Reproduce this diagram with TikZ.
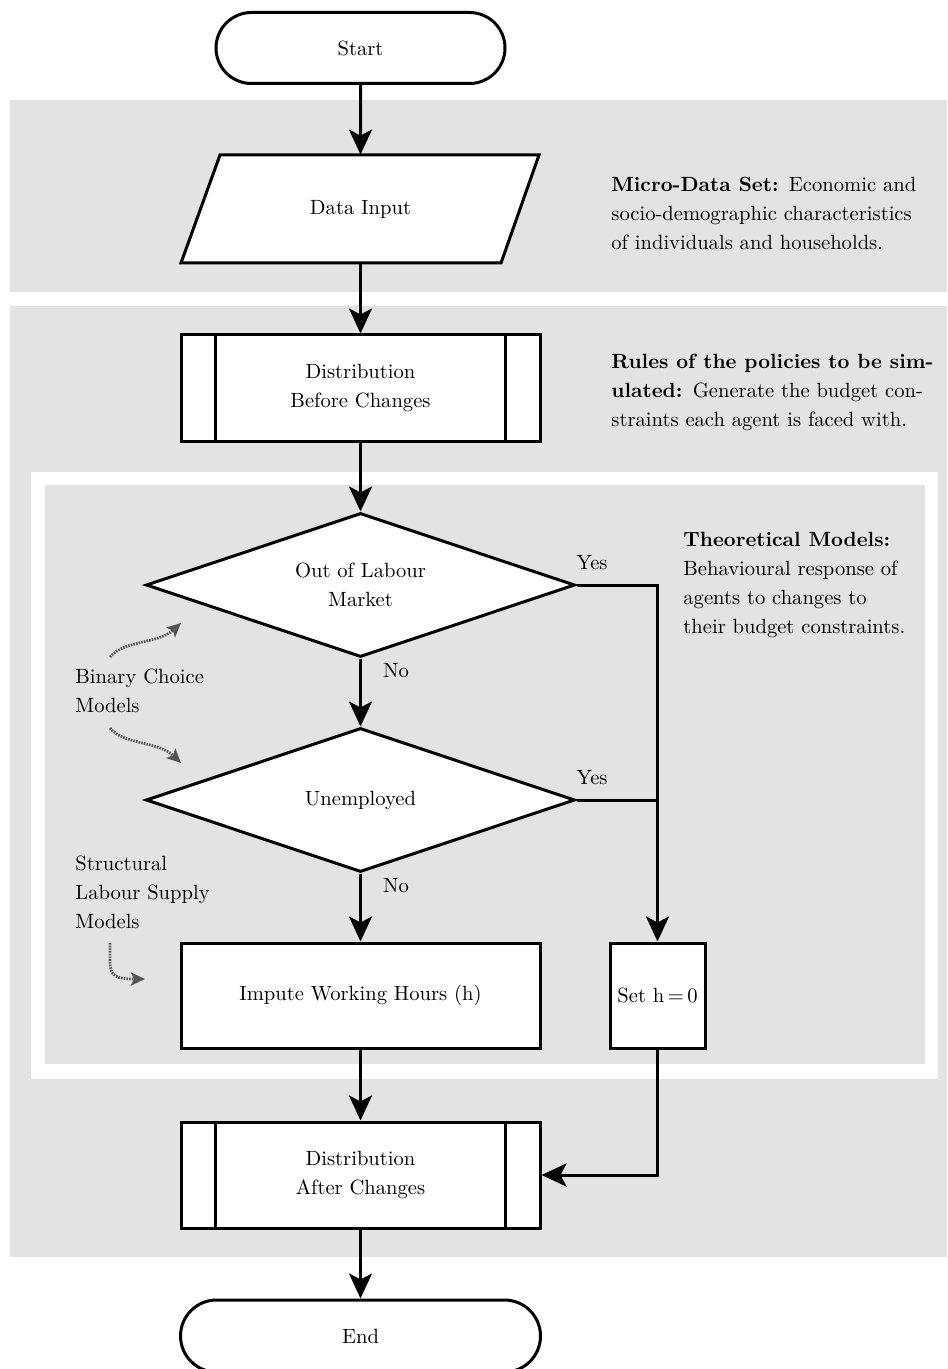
\documentclass[tikz,border=0pt]{standalone}
\usetikzlibrary{shapes.misc,shapes.geometric,arrows.meta}
\definecolor{bandgray}{HTML}{E3E3E3}
\definecolor{dotgray}{HTML}{555555}
\begin{document}
\begin{tikzpicture}[x=0.5pt,y=-0.5pt,
  every node/.style={font=\fontsize{10.3}{14.5}\selectfont},
  box/.style={draw, line width=1.5pt, fill=white, inner sep=0pt, align=center},
  term/.style={box, rounded rectangle},
  decision/.style={box, diamond, aspect=3},
  flow/.style={line width=1.5pt, -{Stealth[length=12.5pt,width=11.5pt,inset=3pt]}},
  plainline/.style={line width=1.5pt},
  hint/.style={dotgray, line width=1.35pt, dash pattern=on 0.8pt off 0.55pt, -{Stealth[length=7pt,width=6.5pt,inset=1.5pt]}},
  note/.style={anchor=north west, inner sep=0pt, align=left},
  lbl/.style={inner sep=0pt}]
\useasboundingbox (0,0) rectangle (947,1369);
% background bands
\fill[bandgray] (10,100) rectangle (947,292);
\fill[bandgray] (10,306) rectangle (947,1257);
\fill[white] (31,472) rectangle (938,1079);
\fill[bandgray] (45,485) rectangle (925,1064);

% nodes
\node[term, minimum width=144.5pt, minimum height=35.5pt] (start) at (360.5,48) {Start};
\draw[plainline, fill=white] (220,155) -- (539,155) -- (501,263) -- (181,263) -- cycle;
\node[inner sep=0pt, minimum width=160pt, minimum height=54pt] (data) at (360.5,209) {Data Input};
\node[box, minimum width=179.5pt, minimum height=53pt] (distb) at (360.5,388) {Distribution\\Before Changes};
\draw[plainline] ([xshift=18pt]distb.north west) -- ([xshift=18pt]distb.south west);
\draw[plainline] ([xshift=-18pt]distb.north east) -- ([xshift=-18pt]distb.south east);
\node[decision, minimum width=214.5pt, minimum height=72pt] (d1) at (360.5,585) {Out of Labour\\Market};
\node[decision, minimum width=214.5pt, minimum height=72pt] (d2) at (360.5,800) {Unemployed};
\node[box, minimum width=179.5pt, minimum height=52.5pt] (impute) at (360.5,995.5) {Impute Working Hours (h)};
\node[box, minimum width=47.5pt, minimum height=52.5pt] (seth) at (657.5,995.5) {Set h\,=\,0};
\node[box, minimum width=179.5pt, minimum height=53pt] (dista) at (360.5,1175) {Distribution\\After Changes};
\draw[plainline] ([xshift=18pt]dista.north west) -- ([xshift=18pt]dista.south west);
\draw[plainline] ([xshift=-18pt]dista.north east) -- ([xshift=-18pt]dista.south east);
\node[term, minimum width=180pt, minimum height=36pt] (end) at (360.5,1336) {End};

% connectors
\draw[flow] (start) -- (data.north);
\draw[flow] (data.south) -- (distb.north);
\draw[flow] (distb) -- (d1.north);
\draw[flow] (d1.south) -- (d2.north);
\draw[flow] (d2.south) -- (impute.north);
\draw[flow] (d1.east) -- (d1.east -| seth.north) -- (seth.north);
\draw[plainline] (d2.east) -- (d2.east -| seth.north);
\draw[flow] (impute.south) -- (dista.north);
\draw[flow] (seth.south) |- (dista.east);
\draw[flow] (dista.south) -- (end.north);

% labels
\node[lbl] (yes1) at (592,563) {Yes};
\node[lbl] (yes2) at (592,778) {Yes};
\node[lbl] (no1) at (396,671) {No};
\node[lbl] (no2) at (396,886) {No};

% side notes
\node[note] (micro) at (611,177) {\textbf{Micro-Data Set:}\enspace Economic and\\socio-demographic characteristics\\of individuals and households.};
\node[note] (rules) at (611,354) {\textbf{Rules of the policies to be sim-}\\\textbf{ulated:}\enspace Generate the budget con-\\straints each agent is faced with.};
\node[note] (theory) at (683,532) {\textbf{Theoretical Models:}\\Behavioural response of\\agents to changes to\\their budget constraints.};
\node[note] (binary) at (75,669) {Binary Choice\\Models};
\node[note] (struct) at (75,856) {Structural\\Labour Supply\\Models};

% dotted hint arrows
\coordinate (h1s) at (110,657); \coordinate (h1e) at (181,623);
\draw[hint] (h1s) .. controls (124,640) and (158,644) .. (h1e);
\coordinate (h2s) at (110,728); \coordinate (h2e) at (181,763);
\draw[hint] (h2s) .. controls (124,745) and (158,741) .. (h2e);
\coordinate (h3s) at (110,943); \coordinate (h3e) at (145,979);
\draw[hint] (h3s) -- (110,962) .. controls (110,976) and (116,979) .. (h3e);
\end{tikzpicture}
\end{document}
